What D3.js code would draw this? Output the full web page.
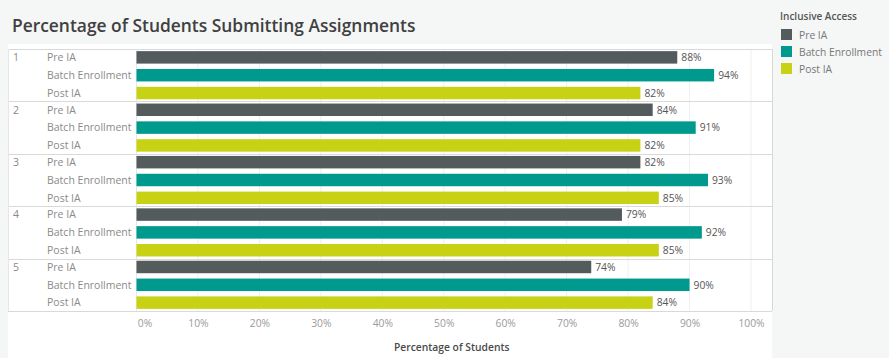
<!DOCTYPE html>
<html>
<head>
<meta charset="utf-8">
<script src="https://cdn.jsdelivr.net/npm/d3@7"></script>
<style>
  html, body { margin: 0; padding: 0; background: #f5f6f6; }
  svg { display: block; font-family: "Open Sans", "Noto Sans", sans-serif; }
</style>
</head>
<body>
<svg id="chart" width="889" height="358"></svg>
<script>
// Assignment submission rates by assignment number and Inclusive Access phase
const assignments = ["1", "2", "3", "4", "5"];
const phases = ["Pre IA", "Batch Enrollment", "Post IA"];
const preIA = [88, 84, 82, 79, 74];
const batchEnrollment = [94, 91, 93, 92, 90];
const postIA = [82, 82, 85, 85, 84];
const xTicks = [0, 10, 20, 30, 40, 50, 60, 70, 80, 90, 100];
const phaseColors = ["#535b5d", "#00998d", "#c8d215"];

const seriesValues = [preIA, batchEnrollment, postIA];
const rows = [];
assignments.forEach((a, i) => {
  phases.forEach((p, j) => rows.push({ assignment: a, phase: p, value: seriesValues[j][i] }));
});

const svg = d3.select("#chart");
const panel = { left: 8, right: 772, top: 49, bottom: 311 };
const plotLeft = 136.5;

// white chart panel
svg.append("rect")
  .attr("x", panel.left).attr("y", 44)
  .attr("width", panel.right - panel.left).attr("height", 358 - 44)
  .attr("fill", "#ffffff");

const x = d3.scaleLinear().domain([0, 100]).range([plotLeft, 751]);
const yOuter = d3.scaleBand().domain(assignments).range([panel.top, panel.bottom]);
const yInner = d3.scaleBand().domain(phases).range([0, yOuter.bandwidth()]).paddingInner(0.3).paddingOuter(0.12);
const color = d3.scaleOrdinal().domain(phases).range(phaseColors);

// title
svg.append("text")
  .attr("x", 12).attr("y", 32)
  .attr("font-size", 17.4).attr("font-weight", 600).attr("fill", "#404040")
  .text("Percentage of Students Submitting Assignments");

// vertical gridlines
svg.append("g").selectAll("line").data(xTicks).join("line")
  .attr("x1", d => x(d)).attr("x2", d => x(d))
  .attr("y1", panel.top).attr("y2", panel.bottom)
  .attr("stroke", "#efefef").attr("stroke-width", 1);

// row separators
svg.append("g").selectAll("line").data(assignments.slice(1)).join("line")
  .attr("x1", panel.left).attr("x2", panel.right)
  .attr("y1", d => Math.round(yOuter(d)) + 0.5).attr("y2", d => Math.round(yOuter(d)) + 0.5)
  .attr("stroke", "#d9d9d9");

// borders
svg.append("line").attr("x1", panel.left).attr("x2", panel.right)
  .attr("y1", panel.top + 0.5).attr("y2", panel.top + 0.5).attr("stroke", "#d9d9d9");
svg.append("line").attr("x1", panel.left).attr("x2", panel.right)
  .attr("y1", panel.bottom + 0.5).attr("y2", panel.bottom + 0.5).attr("stroke", "#d9d9d9");
svg.append("line").attr("x1", panel.left + 0.5).attr("x2", panel.left + 0.5)
  .attr("y1", panel.top).attr("y2", panel.bottom).attr("stroke", "#e6e6e6");
svg.append("line").attr("x1", panel.right + 0.5).attr("x2", panel.right + 0.5)
  .attr("y1", panel.top).attr("y2", panel.bottom).attr("stroke", "#d9d9d9");
svg.append("line").attr("x1", Math.floor(plotLeft) + 0.5).attr("x2", Math.floor(plotLeft) + 0.5)
  .attr("y1", panel.top).attr("y2", panel.bottom).attr("stroke", "#e6e6e6");

// row header labels
svg.append("g").selectAll("text").data(assignments).join("text")
  .attr("x", 13).attr("y", d => yOuter(d) + yInner("Pre IA") + yInner.bandwidth() / 2 + 3.8)
  .attr("font-size", 10.5).attr("fill", "#8a8a8a").text(d => d);

// bars
const groups = svg.append("g").selectAll("g").data(assignments).join("g")
  .attr("transform", d => `translate(0,${yOuter(d)})`);

groups.selectAll("text.phase").data(a => rows.filter(r => r.assignment === a)).join("text")
  .attr("class", "phase")
  .attr("x", 47).attr("y", d => yInner(d.phase) + yInner.bandwidth() / 2 + 3.8)
  .attr("font-size", 10.5).attr("fill", "#8a8a8a").text(d => d.phase);

groups.selectAll("rect").data(a => rows.filter(r => r.assignment === a)).join("rect")
  .attr("x", x(0)).attr("y", d => yInner(d.phase))
  .attr("width", d => x(d.value) - x(0)).attr("height", yInner.bandwidth())
  .attr("fill", d => color(d.phase));

groups.selectAll("text.val").data(a => rows.filter(r => r.assignment === a)).join("text")
  .attr("class", "val")
  .attr("x", d => x(d.value) + 4).attr("y", d => yInner(d.phase) + yInner.bandwidth() / 2 + 3.8)
  .attr("font-size", 10.3).attr("fill", "#555").text(d => d.value + "%");

// x axis
const xAxis = d3.axisBottom(x).tickValues(xTicks).tickFormat(d => d + "%").tickSize(0).tickPadding(0);
const gx = svg.append("g").attr("transform", `translate(0,${panel.bottom + 9})`).call(xAxis);
gx.select(".domain").remove();
gx.selectAll("text").attr("font-size", 10.3).attr("fill", "#9a9a9a")
  .attr("font-family", "\"Open Sans\", sans-serif");
gx.selectAll("text").filter(d => d === 0).attr("dx", 8);

svg.append("text")
  .attr("x", x(50) + 8).attr("y", 351)
  .attr("text-anchor", "middle").attr("font-size", 10.3).attr("font-weight", 600).attr("fill", "#4a4a4a")
  .text("Percentage of Students");

// legend
const legend = svg.append("g").attr("transform", "translate(780,0)");
legend.append("text").attr("x", 0).attr("y", 20)
  .attr("font-size", 10).attr("fill", "#555").attr("font-weight", 600)
  .text("Inclusive Access");
const li = legend.selectAll("g").data(phases).join("g")
  .attr("transform", (d, i) => `translate(1,${29 + i * 17})`);
li.append("rect").attr("width", 11).attr("height", 11).attr("fill", d => color(d));
li.append("text").attr("x", 18).attr("y", 9.5).attr("font-size", 10.3).attr("fill", "#777").text(d => d);
</script>
</body>
</html>
